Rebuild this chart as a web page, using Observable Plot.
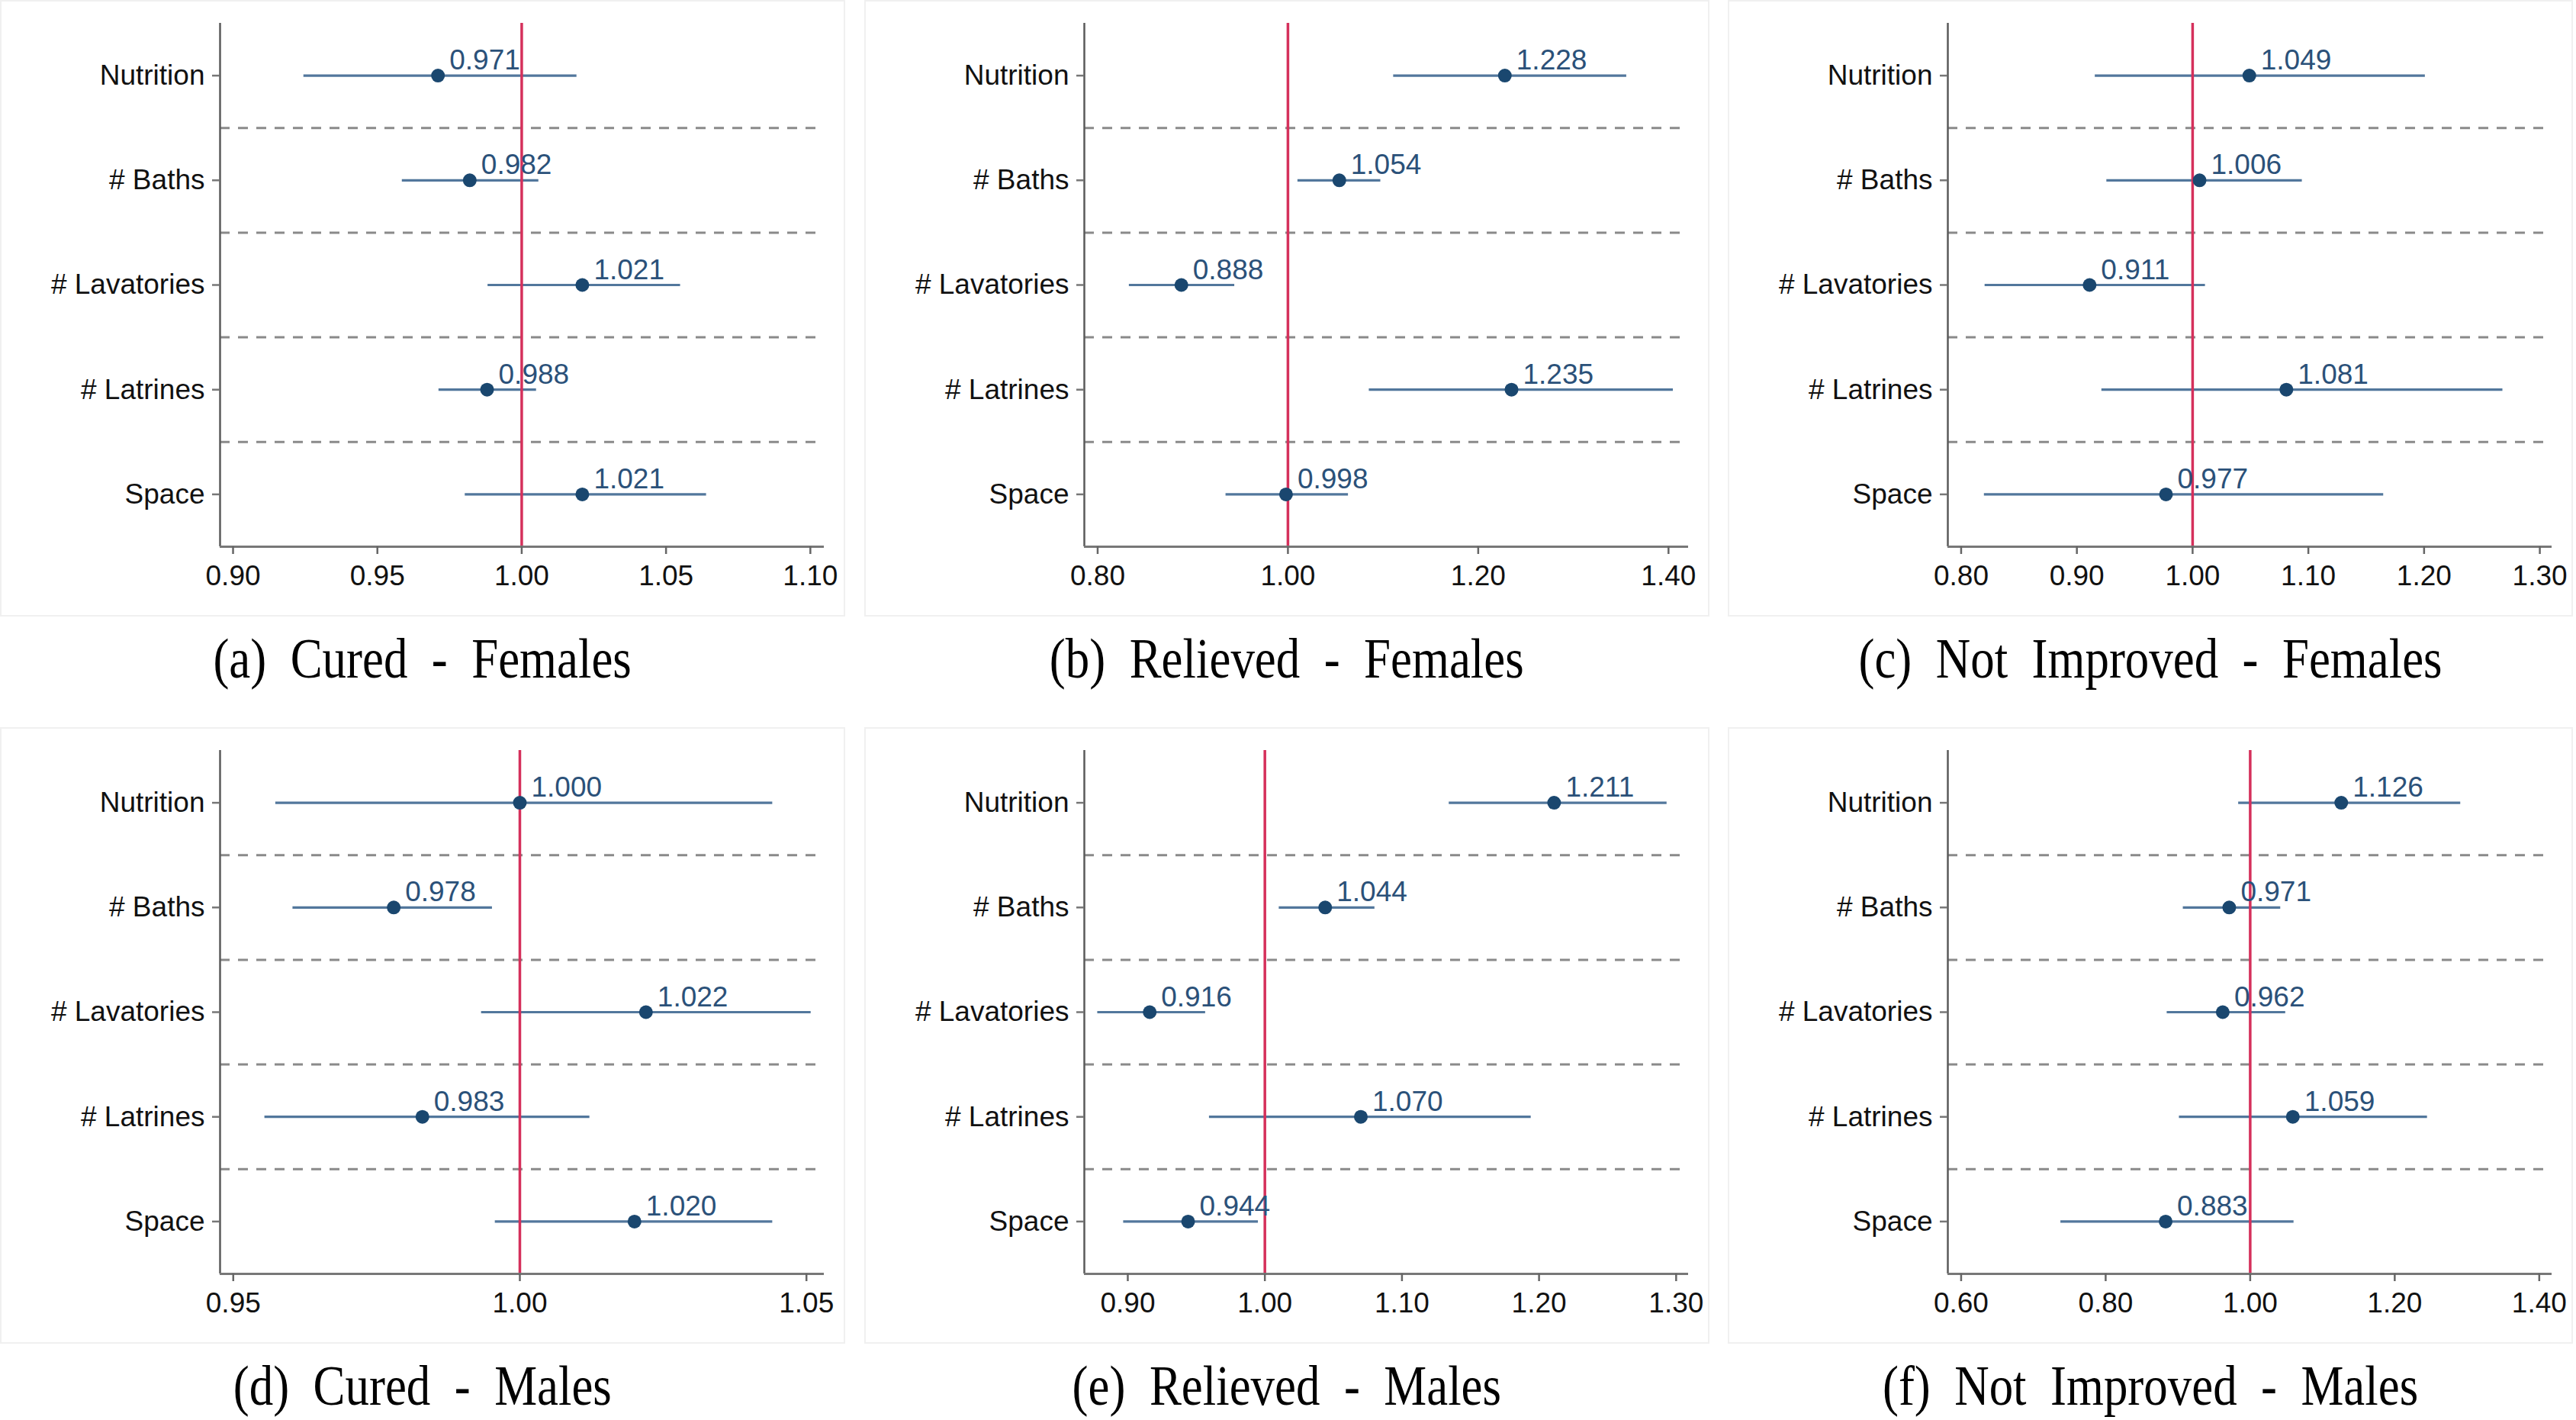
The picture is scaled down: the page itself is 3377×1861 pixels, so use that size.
<!DOCTYPE html>
<html>
<head>
<meta charset="utf-8">
<script src="https://cdn.jsdelivr.net/npm/d3@7"></script>
<script src="https://cdn.jsdelivr.net/npm/@observablehq/plot@0.6"></script>
<style>
  body { margin: 0; background: #ffffff; }
  #wrap { position: relative; width: 3377px; height: 1861px; overflow: hidden; background: #ffffff; }
  .box { position: absolute; width: 1108px; height: 808px; box-sizing: border-box; border: 2px solid #f0f0f0; }
  .plot { position: absolute; width: 1108px; height: 808px; }
  .plot svg { display: block; }
  .cap { position: absolute; width: 1108px; text-align: center; font-family: "Liberation Serif", "Times New Roman", serif;
         font-size: 74px; line-height: 1; white-space: pre; color: #000; }
  .cap span { display: inline-block; transform: scaleX(0.85); }
</style>
</head>
<body>
<div id="wrap"></div>
<script>
// ---- data ----
const categories = ["Nutrition", "# Baths", "# Lavatories", "# Latrines", "Space"];

const captions = [
  "(a)  Cured  -  Females", "(b)  Relieved  -  Females", "(c)  Not  Improved  -  Females",
  "(d)  Cured  -  Males", "(e)  Relieved  -  Males", "(f)  Not  Improved  -  Males"
];

// odds ratios and 95% CI bounds, in category order
const curedFemalesOR   = [0.971, 0.982, 1.021, 0.988, 1.021];
const curedFemalesLo   = [0.9245, 0.9586, 0.9883, 0.9713, 0.9804];
const curedFemalesHi   = [1.0191, 1.0059, 1.0550, 1.0051, 1.0640];

const relievedFemalesOR = [1.228, 1.054, 0.888, 1.235, 0.998];
const relievedFemalesLo = [1.111, 1.0104, 0.8332, 1.0854, 0.9348];
const relievedFemalesHi = [1.356, 1.0975, 0.944, 1.405, 1.0635];

const notImprovedFemalesOR = [1.049, 1.006, 0.911, 1.081, 0.977];
const notImprovedFemalesLo = [0.9158, 0.9258, 0.8206, 0.9215, 0.820];
const notImprovedFemalesHi = [1.201, 1.0947, 1.011, 1.268, 1.165];

const curedMalesOR = [1.000, 0.978, 1.022, 0.983, 1.020];
const curedMalesLo = [0.9574, 0.9604, 0.9933, 0.9555, 0.9957];
const curedMalesHi = [1.0441, 0.9952, 1.0508, 1.0122, 1.0441];

const relievedMalesOR = [1.211, 1.044, 0.916, 1.070, 0.944];
const relievedMalesLo = [1.1344, 1.0104, 0.878, 0.9595, 0.8969];
const relievedMalesHi = [1.2933, 1.0802, 0.9567, 1.1942, 0.9952];

const notImprovedMalesOR = [1.126, 0.971, 0.962, 1.059, 0.883];
const notImprovedMalesLo = [0.9839, 0.9073, 0.885, 0.9019, 0.7379];
const notImprovedMalesHi = [1.2912, 1.0421, 1.049, 1.2452, 1.0605];

// x axis ranges and tick labels per panel
const xDomains = [
  [0.8955, 1.1048], [0.786, 1.421], [0.7885, 1.3105],
  [0.9477, 1.0531], [0.8683, 1.309], [0.5816, 1.4176]
];
const xTicks = [
  [0.90, 0.95, 1.00, 1.05, 1.10],
  [0.80, 1.00, 1.20, 1.40],
  [0.80, 0.90, 1.00, 1.10, 1.20, 1.30],
  [0.95, 1.00, 1.05],
  [0.90, 1.00, 1.10, 1.20, 1.30],
  [0.60, 0.80, 1.00, 1.20, 1.40]
];
const referenceValue = [1];
const separators = [0.5, 1.5, 2.5, 3.5];

const panels = [
  [curedFemalesOR, curedFemalesLo, curedFemalesHi],
  [relievedFemalesOR, relievedFemalesLo, relievedFemalesHi],
  [notImprovedFemalesOR, notImprovedFemalesLo, notImprovedFemalesHi],
  [curedMalesOR, curedMalesLo, curedMalesHi],
  [relievedMalesOR, relievedMalesLo, relievedMalesHi],
  [notImprovedMalesOR, notImprovedMalesLo, notImprovedMalesHi]
];

// ---- font detection ----
function hasFont(name) {
  const c = document.createElement("canvas").getContext("2d");
  const s = "0.971 Nutrition # Lavatories";
  c.font = "40px monospace"; const a = c.measureText(s).width;
  c.font = `40px "${name}", monospace`; const b = c.measureText(s).width;
  return Math.abs(a - b) > 0.5;
}
const narrow = hasFont("Liberation Sans Narrow");
const FONT = narrow ? '"Liberation Sans Narrow", "Liberation Sans", Arial, sans-serif' : '"Liberation Sans", Arial, sans-serif';
const FS = narrow ? 42 : 37;

// ---- layout ----
const colX = [0, 1133, 2265];
const rowY = [0, 953];
const W = 1108, H = 808;

const wrap = document.getElementById("wrap");

panels.forEach(([est, lo, hi], k) => {
  const rows = categories.map((c, i) => ({i, cat: c, est: est[i], lo: lo[i], hi: hi[i], label: d3.format(".3f")(est[i])}));
  const dom = xDomains[k];
  const left = colX[k % 3], top = rowY[Math.floor(k / 3)];

  const box = document.createElement("div");
  box.className = "box"; box.style.left = left + "px"; box.style.top = top + "px";
  wrap.appendChild(box);

  const chart = Plot.plot({
    width: W, height: H,
    marginLeft: 288, marginRight: 28, marginTop: 30, marginBottom: 92,
    style: {fontFamily: FONT, fontSize: FS + "px", background: "transparent", color: "#111"},
    x: {domain: dom, label: null},
    y: {domain: [-0.5, 4.5], reverse: true, label: null},
    marks: [
      Plot.ruleY(separators, {stroke: "#8a8a8a", strokeWidth: 3, strokeDasharray: "13,11"}),
      Plot.ruleY(rows, {y: "i", x1: "lo", x2: "hi", stroke: "#52779c", strokeWidth: 3.2}),
      Plot.ruleX(referenceValue, {stroke: "#d5305b", strokeWidth: 3.5}),
      Plot.ruleX([dom[0]], {stroke: "#5a5a5a", strokeWidth: 2.5}),
      Plot.ruleY([4.5], {stroke: "#777", strokeWidth: 3}),
      Plot.axisX({ticks: xTicks[k], tickFormat: d3.format(".2f"), tickSize: 10, tickPadding: 14,
                  stroke: "#666", fill: "#111", strokeWidth: 2.5, fontSize: FS}),
      Plot.axisY({ticks: [0, 1, 2, 3, 4], tickFormat: i => categories[i], tickSize: 10, tickPadding: 10,
                  stroke: "#777", fill: "#111", strokeWidth: 2.5, fontSize: FS}),
      Plot.dot(rows, {x: "est", y: "i", r: 9, fill: "#1a476f", stroke: "none"}),
      Plot.text(rows, {x: "est", y: "i", text: "label", dx: 15, dy: -8, textAnchor: "start", lineAnchor: "bottom",
                       fill: "#2b5179", fontSize: FS})
    ]
  });
  const holder = document.createElement("div");
  holder.className = "plot"; holder.style.left = left + "px"; holder.style.top = top + "px";
  holder.appendChild(chart);
  wrap.appendChild(holder);

  const cap = document.createElement("div");
  cap.className = "cap"; cap.style.left = left + "px"; cap.style.top = (top + 826) + "px";
  const sp = document.createElement("span"); sp.textContent = captions[k];
  cap.appendChild(sp);
  wrap.appendChild(cap);
});
</script>
</body>
</html>
